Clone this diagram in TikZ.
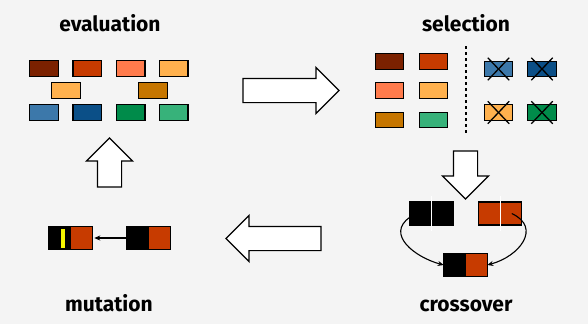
\documentclass[tikz,border=0pt]{standalone}
\usepackage{fontspec}
\setmainfont{Fira Sans}
\usetikzlibrary{arrows.meta,shapes.arrows}

\definecolor{bggray}{HTML}{F4F4F4}
\definecolor{cbrown}{HTML}{7B2100}
\definecolor{cred}{HTML}{C73B00}
\definecolor{ccoral}{HTML}{FF7B4C}
\definecolor{capricot}{HTML}{FFB14E}
\definecolor{cochre}{HTML}{C67600}
\definecolor{cblue}{HTML}{3C78AA}
\definecolor{cnavy}{HTML}{0B4F87}
\definecolor{cgreen}{HTML}{008B4A}
\definecolor{cmint}{HTML}{37B27A}
\definecolor{cyellow}{HTML}{F5F500}

\tikzset{
    brick/.style={draw, line width=1.4pt, fill=#1, minimum width=28.5pt, minimum height=15.5pt, inner sep=0pt, outer sep=0pt},
    gene/.style={draw, line width=1.4pt, fill=#1, minimum width=43.5pt, minimum height=23pt, inner sep=0pt, outer sep=0pt},
    half/.style={gene=#1, minimum width=21.75pt},
    bigarrow/.style={single arrow, draw, fill=white, line width=1.2pt, inner xsep=0pt, inner ysep=11.5pt, single arrow head extend=11pt, single arrow tip angle=90, outer sep=0pt},
    heading/.style={font=\fontsize{21}{25}\selectfont\bfseries, anchor=base},
    link/.style={-{Stealth[length=6pt,width=5pt]}, line width=1.1pt},
}

\begin{document}
\begin{tikzpicture}[x=1pt, y=-1pt]

    % Background, fixes the size of the page
    \fill[bggray] (0,0) rectangle (588,324);

    % Names of the four steps
    \node[heading] (tEval) at (110,31) {evaluation};
    \node[heading] (tSel) at (466,31) {selection};
    \node[heading] (tCross) at (466,311) {crossover};
    \node[heading] (tMut) at (109,311) {mutation};

    % Population to evaluate
    \foreach \c [count=\i] in {cbrown,cred,ccoral,capricot} {
        \node[brick=\c] (E\i) at ({44+43.3*(\i-1)},68.5) {};
    }
    \node[brick=capricot] (E5) at (66,90.5) {};
    \node[brick=cochre] (E6) at (153,90.5) {};
    \foreach \c [count=\i from 7] in {cblue,cnavy,cgreen,cmint} {
        \node[brick=\c] (E\i) at ({44+43.3*(\i-7)},112.5) {};
    }

    % Selected individuals
    \foreach \c/\x/\y [count=\i] in {cbrown/389.5/61.5, cred/433.5/61.5, ccoral/389.5/90.5, capricot/433.5/90.5, cochre/389.5/120, cmint/433.5/120} {
        \node[brick=\c] (S\i) at (\x,\y) {};
    }

    % Dashed cut between kept and dropped
    \coordinate (cutTop) at (466,46);
    \coordinate (cutBot) at (466,135);
    \draw[line width=1.5pt, dash pattern=on 3pt off 3pt] (cutTop) -- (cutBot);

    % Dropped individuals, crossed out
    \foreach \c/\x/\y [count=\i] in {cblue/498.5/69, cnavy/542/69, capricot/498.5/112.5, cgreen/542/112.5} {
        \node[brick=\c] (D\i) at (\x,\y) {};
        \draw[line width=1.3pt] ([xshift=3.5pt,yshift=3.5pt]D\i.north west) -- ([xshift=-3.5pt,yshift=-3.5pt]D\i.south east);
        \draw[line width=1.3pt] ([xshift=-3.5pt,yshift=3.5pt]D\i.north east) -- ([xshift=3.5pt,yshift=-3.5pt]D\i.south west);
    }

    % Big arrows from step to step
    \node[bigarrow, minimum height=96pt] (A1) at (285,90.5) {};
    \node[bigarrow, minimum height=48pt, rotate=-90] (A2) at (465.5,169) {};
    \node[bigarrow, minimum height=95pt, rotate=180] (A3) at (279.5,238.5) {};
    \node[bigarrow, minimum height=49pt, rotate=90] (A4) at (109.5,168.5) {};

    % Crossover of two parents
    \node[gene=black] (P1) at (431.5,213.5) {};
    \node[gene=cred] (P2) at (500,213.5) {};
    \draw[white, line width=1pt] ([yshift=6pt]P1.north) -- ([yshift=-6pt]P1.south);
    \draw[white, line width=1pt] ([yshift=6pt]P2.north) -- ([yshift=-6pt]P2.south);
    \node[half=black] (K1) at (454.6,265) {};
    \node[half=cred] (K2) at (476.4,265) {};
    \draw[link] (P1.190) to[out=215, in=165, looseness=1.3] (K1.west);
    \draw[link] ([xshift=-10pt]P2.east) to[out=-25, in=15, looseness=1.5] (K2.east);

    % Mutation of one gene
    \node[half=black] (O1) at (137.6,238) {};
    \node[half=cred] (O2) at (159.4,238) {};
    \node[half=black] (M1) at (59.6,238) {};
    \node[half=cred] (M2) at (81.4,238) {};
    \node[draw, line width=0.8pt, fill=cyellow, minimum width=5pt, minimum height=20pt, inner sep=0pt] (Y) at (63,238) {};
    \draw[link, shorten >=2pt] (O1.west) -- (M2.east);

\end{tikzpicture}
\end{document}
